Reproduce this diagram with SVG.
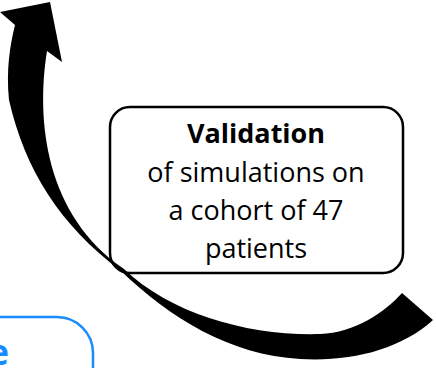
<svg xmlns="http://www.w3.org/2000/svg" width="436" height="368" viewBox="0 0 436 368">
<style>
.box{fill:#fff;stroke:#000;stroke-width:2.5}
.txt{font-family:"Open Sans","Liberation Sans",sans-serif;font-size:27px;fill:#000;text-anchor:middle}
.b{font-weight:bold}
.blue{fill:#fff;stroke:#1a8cff;stroke-width:2.5}
.btxt{font-family:"Open Sans","Liberation Sans",sans-serif;font-size:36px;font-weight:bold;fill:#1a8cff;text-anchor:end}
</style>
<rect width="436" height="368" fill="#fff"/>
<g id="simulate">
<rect class="blue" x="-40" y="317" width="133" height="90" rx="36"/>
<text class="btxt" x="9" y="365">e</text>
</g>
<g id="validation">
<rect class="box" x="110" y="107" width="293" height="166" rx="20"/>
<text class="txt b" x="256" y="143">Validation</text>
<text class="txt" x="256" y="182">of simulations on</text>
<text class="txt" x="256" y="220">a cohort of 47</text>
<text class="txt" x="256" y="258">patients</text>
</g>
<g id="connectors">
<path fill="#000" d="M15,25 L0,12 L50,2 L62,62 L47,51 C36,120 45,215 124,269 C172,315 250,336 320,334 C355,333 385,312 402,293 L433,320 C400,350 350,362 300,359 C230,355 170,318 121,271 C60,225 25,170 9,100 C6,70 10,45 15,25 Z"/>
</g>
</svg>
